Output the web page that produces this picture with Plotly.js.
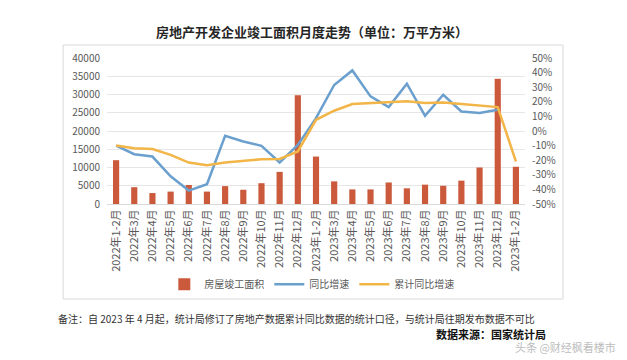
<!DOCTYPE html>
<html>
<head>
<meta charset="utf-8">
<script src="https://cdn.plot.ly/plotly-3.0.1.min.js"></script>
<style>html,body{margin:0;padding:0;background:#fff;}#chart{width:627px;height:360px;}</style>
</head>
<body>
<div id="chart"></div>
<script>
const categories = ["2022年1-2月","2022年3月","2022年4月","2022年5月","2022年6月","2022年7月","2022年8月","2022年9月","2022年10月","2022年11月","2022年12月",
  "2023年1-2月","2023年3月","2023年4月","2023年5月","2023年6月","2023年7月","2023年8月","2023年9月","2023年10月","2023年11月","2023年12月","2023年1-2月"];
const area = [12000,4600,3000,3400,5200,3400,4900,3900,5700,8800,29800,13000,6200,4000,4000,5900,4300,5300,5000,6400,10000,34300,10200];
const yoy = [-10,-15.9,-17.5,-31,-40.8,-36.5,-3.3,-7.2,-10.2,-21.6,-9.5,8.8,31.5,41.5,23.7,16.4,32.4,10.4,24.8,13.4,12.3,14.5,null];
const cumYoy = [-10,-11.8,-12.4,-16.3,-21.6,-23.4,-21.6,-20.2,-19.3,-19.1,-14,7.7,13.9,18.5,19.1,19.3,20.3,19.1,19.5,18.5,17.3,16.4,-20.9];
const leftTicks = [0,5000,10000,15000,20000,25000,30000,35000,40000];
const rightTicks = [-50,-40,-30,-20,-10,0,10,20,30,40,50];
const rightTickText = rightTicks.map(v => v + "%");
const seriesNames = ["房屋竣工面积","同比增速","累计同比增速"];
const titleText = "房地产开发企业竣工面积月度走势（单位：万平方米）";
const noteText = "备注：自 2023 年 4 月起，统计局修订了房地产数据累计同比数据的统计口径，与统计局往期发布数据不可比";
const sourceText = "数据来源：国家统计局";
const watermarkText = "头条 @财经枫看楼市";

const idx = categories.map((_, i) => i);
const FONT = "Noto Sans CJK SC, Liberation Sans, sans-serif";

const traces = [
  {type:"bar", x:idx, y:area, name:seriesNames[0], marker:{color:"#CB5A3C"}, yaxis:"y"},
  {type:"scatter", mode:"lines", x:idx, y:yoy, name:seriesNames[1], line:{color:"#6A9FCE", width:2.5}, yaxis:"y2", connectgaps:false},
  {type:"scatter", mode:"lines", x:idx, y:cumYoy, name:seriesNames[2], line:{color:"#F2B548", width:2.5}, yaxis:"y2"}
];

const layout = {
  width:627, height:360,
  margin:{l:107, r:102, t:58, b:156},
  paper_bgcolor:"#fff", plot_bgcolor:"#fff",
  font:{family:FONT, size:10, color:"#595959"},
  bargap:0.66,
  showlegend:true,
  legend:{orientation:"h", x:0.49, xanchor:"center", y:-0.55, yanchor:"middle",
          font:{size:10, color:"#595959"}, itemwidth:30, traceorder:"normal", bgcolor:"rgba(0,0,0,0)"},
  xaxis:{tickmode:"array", tickvals:idx, ticktext:categories, tickangle:-90, range:[-0.5,22.5],
         showgrid:false, zeroline:false, showline:true, linecolor:"#D9D9D9", linewidth:1, ticks:"",
         tickfont:{size:11, color:"#595959"}, fixedrange:true},
  yaxis:{range:[0,40000], tickmode:"array", tickvals:leftTicks, ticktext:leftTicks.map(String),
         showgrid:true, gridcolor:"#E6E6E6", gridwidth:1, zeroline:false, showline:false, ticks:"",
         ticklabelstandoff:6, tickfont:{size:10, color:"#595959"}},
  yaxis2:{range:[-50,50], overlaying:"y", side:"right", tickmode:"array", tickvals:rightTicks, ticktext:rightTickText,
          showgrid:false, zeroline:false, showline:false, ticks:"", ticklabelstandoff:6,
          tickfont:{size:10, color:"#595959"}},
  shapes:[
    {type:"rect", xref:"paper", yref:"paper", x0:-0.105, x1:1.091, y0:-0.651, y1:1.089,
     line:{color:"#D9D9D9", width:1}, fillcolor:"rgba(0,0,0,0)", layer:"below"}
  ],
  annotations:[
    {text:"<b>"+titleText+"</b>", xref:"paper", yref:"paper", x:0.49, y:(204-32)/146, xanchor:"center", yanchor:"middle",
     showarrow:false, font:{size:13, color:"#262626", family:FONT}},
    {text:noteText, xref:"paper", yref:"paper", x:(56-107)/418, y:(204-318)/146, xanchor:"left", yanchor:"middle",
     showarrow:false, font:{size:10, color:"#333", family:FONT}},
    {text:"<b>"+sourceText+"</b>", xref:"paper", yref:"paper", x:(548-107)/418, y:(204-334)/146, xanchor:"right", yanchor:"middle",
     showarrow:false, font:{size:11, color:"#111", family:FONT}},
    {text:watermarkText, xref:"paper", yref:"paper", x:(618-107)/418, y:(204-347)/146, xanchor:"right", yanchor:"middle",
     showarrow:false, font:{size:11, color:"#BDBDBD", family:FONT}}
  ]
};

Plotly.newPlot("chart", traces, layout, {staticPlot:true, displayModeBar:false});
</script>
</body>
</html>
